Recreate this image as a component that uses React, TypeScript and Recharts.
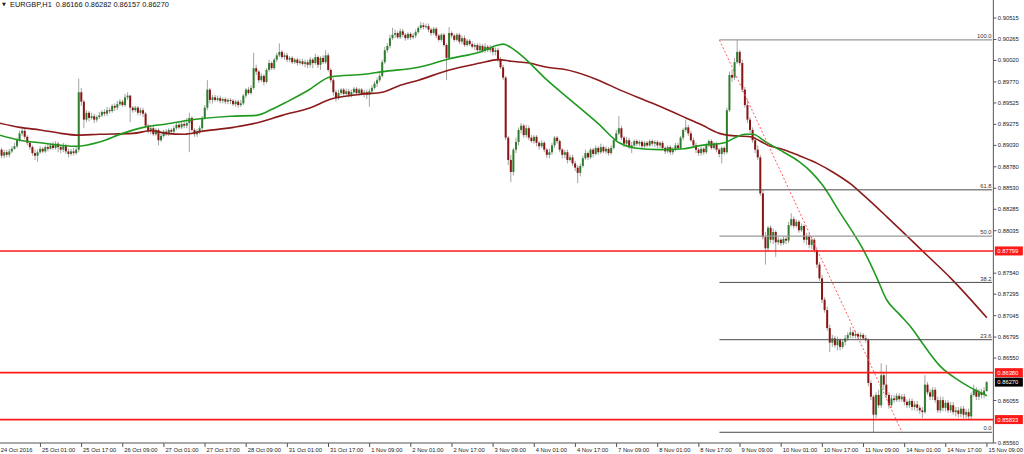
import React from 'react';
import { ComposedChart, Bar, Line, XAxis, YAxis, ReferenceLine } from 'recharts';

// ---- EURGBP H1 candles (24 Oct 2016 09:00 .. 15 Nov 2016 09:00) ----
const OPEN = [
0.8903,0.8898,0.8891,0.8895,0.8892,0.8896,0.8899,0.8902,0.8909,0.8917,0.8920,
0.8913,0.8906,0.8901,0.8894,0.8891,0.8895,0.8899,0.8896,0.8901,0.8899,
0.8903,0.8900,0.8905,0.8901,0.8898,0.8902,0.8896,0.8893,0.8896,0.8894,
0.8898,0.8965,0.8954,0.8933,0.8941,0.8935,0.8937,0.8933,0.8936,0.8938,
0.8942,0.8940,0.8944,0.8943,0.8949,0.8947,0.8951,0.8954,0.8950,0.8959,
0.8961,0.8947,0.8944,0.8947,0.8941,0.8944,0.8940,0.8926,0.8920,0.8923,
0.8916,0.8921,0.8909,0.8914,0.8919,0.8916,0.8921,0.8919,0.8923,0.8927,
0.8924,0.8928,0.8926,0.8929,0.8935,0.8921,0.8916,0.8919,0.8923,0.8935,
0.8947,0.8968,0.8956,0.8959,0.8956,0.8958,0.8955,0.8957,0.8954,0.8956,
0.8955,0.8951,0.8954,0.8950,0.8952,0.8961,0.8968,0.8964,0.8970,0.8993,
0.8989,0.8979,0.8984,0.8977,0.8991,0.8999,0.8993,0.9003,0.9008,0.9012,
0.9006,0.9008,0.9003,0.9005,0.9000,0.9003,0.8999,0.9001,0.8998,0.9000,
0.8997,0.9003,0.8999,0.9006,0.8997,0.9005,0.9000,0.9008,0.8991,0.8979,
0.8965,0.8958,0.8964,0.8968,0.8963,0.8966,0.8962,0.8965,0.8969,0.8964,
0.8968,0.8963,0.8965,0.8962,0.8966,0.8970,0.8975,0.8979,0.8984,0.9000,
0.9014,0.9019,0.9028,0.9032,0.9034,0.9029,0.9036,0.9032,0.9028,0.9033,
0.9029,0.9031,0.9035,0.9040,0.9043,0.9041,0.9042,0.9038,0.9034,0.9039,
0.9031,0.9026,0.9032,0.9020,0.9005,0.9034,0.9031,0.9026,0.9032,0.9024,
0.9028,0.9020,0.9025,0.9021,0.9018,0.9020,0.9014,0.9019,0.9013,0.9018,
0.9014,0.9017,0.9012,0.9014,0.9003,0.8994,0.8982,0.8912,0.8886,0.8872,
0.8898,0.8907,0.8921,0.8926,0.8915,0.8923,0.8912,0.8908,0.8913,0.8906,
0.8902,0.8906,0.8898,0.8892,0.8895,0.8903,0.8912,0.8908,0.8898,0.8892,
0.8895,0.8886,0.8889,0.8882,0.8877,0.8871,0.8879,0.8888,0.8894,0.8889,
0.8898,0.8893,0.8900,0.8895,0.8901,0.8896,0.8899,0.8894,0.8900,0.8909,
0.8917,0.8923,0.8912,0.8905,0.8909,0.8901,0.8903,0.8908,0.8905,0.8907,
0.8902,0.8906,0.8903,0.8908,0.8905,0.8907,0.8903,0.8906,0.8900,0.8896,
0.8901,0.8895,0.8899,0.8903,0.8900,0.8912,0.8921,0.8924,0.8917,0.8909,
0.8903,0.8898,0.8894,0.8899,0.8895,0.8903,0.8908,0.8900,0.8905,0.8898,
0.8893,0.8900,0.8895,0.8944,0.8985,0.8982,0.9000,0.9012,0.8999,0.8968,
0.8950,0.8933,0.8921,0.8909,0.8898,0.8889,0.8847,0.8796,0.8783,0.8807,
0.8793,0.8802,0.8790,0.8793,0.8789,0.8794,0.8792,0.8810,0.8817,0.8809,
0.8814,0.8804,0.8809,0.8793,0.8797,0.8787,0.8793,0.8781,0.8764,0.8748,
0.8723,0.8711,0.8690,0.8673,0.8678,0.8670,0.8676,0.8668,0.8674,0.8678,
0.8682,0.8685,0.8681,0.8683,0.8680,0.8682,0.8678,0.8676,0.8626,0.8610,
0.8589,0.8612,0.8600,0.8635,0.8624,0.8612,0.8600,0.8608,0.8606,0.8611,
0.8607,0.8610,0.8604,0.8600,0.8605,0.8598,0.8601,0.8597,0.8594,0.8592,
0.8624,0.8615,0.8610,0.8618,0.8606,0.8594,0.8606,0.8597,0.8603,0.8594,
0.8600,0.8592,0.8594,0.8590,0.8596,0.8589,0.8592,0.8587,0.8612,0.8618,
0.8610,0.8615,0.8612,0.86166,
];

const HIGH = [
0.8906,0.8900,0.8898,0.8898,0.8899,0.8902,0.8906,0.8912,0.8920,0.8923,
0.8922,0.8915,0.8908,0.8903,0.8898,0.8898,0.8902,0.8901,0.8903,0.8905,
0.8906,0.8907,0.8908,0.8907,0.8903,0.8906,0.8905,0.8899,0.8899,0.8900,
0.8901,0.8981,0.8970,0.8956,0.8944,0.8943,0.8941,0.8940,0.8938,0.8942,
0.8944,0.8945,0.8948,0.8947,0.8951,0.8952,0.8955,0.8957,0.8956,0.8963,
0.8965,0.8962,0.8949,0.8949,0.8949,0.8947,0.8947,0.8942,0.8928,0.8926,
0.8926,0.8923,0.8923,0.8917,0.8921,0.8922,0.8923,0.8923,0.8926,0.8929,
0.8930,0.8931,0.8933,0.8935,0.8941,0.8937,0.8923,0.8922,0.8926,0.8937,
0.8950,0.8979,0.8970,0.8962,0.8962,0.8961,0.8961,0.8959,0.8959,0.8958,
0.8958,0.8957,0.8956,0.8956,0.8956,0.8963,0.8970,0.8971,0.8973,0.9011,
0.8997,0.8991,0.8987,0.8986,0.8993,0.9003,0.9001,0.9005,0.9011,0.9022,
0.9014,0.9011,0.9011,0.9007,0.9007,0.9005,0.9005,0.9004,0.9004,0.9003,
0.9003,0.9006,0.9005,0.9010,0.9008,0.9007,0.9008,0.9014,0.9011,0.8993,
0.8982,0.8968,0.8968,0.8970,0.8970,0.8969,0.8969,0.8968,0.8971,0.8971,
0.8970,0.8970,0.8968,0.8968,0.8969,0.8973,0.8978,0.8982,0.8987,0.9003,
0.9018,0.9022,0.9032,0.9040,0.9038,0.9036,0.9039,0.9039,0.9034,0.9035,
0.9035,0.9034,0.9038,0.9042,0.9047,0.9046,0.9045,0.9045,0.9040,0.9041,
0.9041,0.9033,0.9034,0.9034,0.9022,0.9041,0.9036,0.9033,0.9034,0.9034,
0.9031,0.9031,0.9027,0.9027,0.9024,0.9022,0.9022,0.9022,0.9021,0.9022,
0.9020,0.9020,0.9019,0.9017,0.9017,0.9006,0.8997,0.8984,0.8914,0.8892,
0.8900,0.8912,0.8924,0.8929,0.8928,0.8927,0.8926,0.8915,0.8915,0.8915,
0.8908,0.8909,0.8908,0.8900,0.8899,0.8906,0.8914,0.8914,0.8910,0.8900,
0.8898,0.8898,0.8892,0.8892,0.8885,0.8880,0.8882,0.8891,0.8898,0.8896,
0.8900,0.8900,0.8903,0.8902,0.8905,0.8903,0.8902,0.8901,0.8903,0.8912,
0.8921,0.8937,0.8926,0.8914,0.8913,0.8912,0.8907,0.8910,0.8910,0.8909,
0.8909,0.8908,0.8908,0.8910,0.8910,0.8909,0.8909,0.8908,0.8908,0.8902,
0.8903,0.8903,0.8901,0.8906,0.8906,0.8914,0.8923,0.8933,0.8927,0.8920,
0.8912,0.8906,0.8900,0.8901,0.8901,0.8906,0.8910,0.8910,0.8907,0.8907,
0.8900,0.8902,0.8902,0.8947,0.8989,0.8991,0.9005,0.90259,0.9014,0.9003,
0.8971,0.8956,0.8936,0.8924,0.8913,0.8903,0.8892,0.8851,0.8802,0.8809,
0.8810,0.8806,0.8804,0.8796,0.8795,0.8797,0.8797,0.8814,0.8824,0.8820,
0.8817,0.8816,0.8812,0.8811,0.8801,0.8800,0.8796,0.8795,0.8783,0.8767,
0.8752,0.8726,0.8715,0.8694,0.8682,0.8681,0.8680,0.8678,0.8677,0.8682,
0.8685,0.8691,0.8688,0.8687,0.8685,0.8685,0.8684,0.8682,0.8678,0.8629,
0.8612,0.8615,0.8618,0.8649,0.8639,0.8647,0.8615,0.8612,0.8612,0.8614,
0.8614,0.8613,0.8613,0.8607,0.8608,0.8608,0.8605,0.8605,0.8600,0.8598,
0.8635,0.8627,0.8619,0.8621,0.8621,0.8610,0.8610,0.8610,0.8606,0.8606,
0.8604,0.8604,0.8598,0.8598,0.8599,0.8599,0.8596,0.8596,0.8615,0.8624,
0.8621,0.8619,0.8619,0.8621,0.86282,
];

const LOW = [
0.8895,0.8888,0.8888,0.8889,0.8889,0.8894,0.8898,0.8900,0.8907,0.8914,
0.8910,0.8903,0.8898,0.8891,0.8886,0.8884,0.8893,0.8894,0.8894,0.8896,
0.8898,0.8898,0.8898,0.8895,0.8894,0.8895,0.8893,0.8889,0.8891,0.8891,
0.8892,0.8895,0.8949,0.8923,0.8930,0.8931,0.8933,0.8929,0.8930,0.8934,
0.8936,0.8937,0.8937,0.8940,0.8941,0.8943,0.8944,0.8949,0.8948,0.8948,
0.8956,0.8930,0.8941,0.8942,0.8938,0.8938,0.8936,0.8923,0.8917,0.8916,
0.8914,0.8914,0.8903,0.8907,0.8912,0.8914,0.8914,0.8915,0.8916,0.8921,
0.8922,0.8922,0.8923,0.8923,0.8895,0.8919,0.8913,0.8913,0.8916,0.8921,
0.8933,0.8944,0.8952,0.8952,0.8954,0.8954,0.8952,0.8952,0.8951,0.8951,
0.8951,0.8949,0.8948,0.8947,0.8948,0.8950,0.8958,0.8962,0.8962,0.8968,
0.8985,0.8976,0.8977,0.8973,0.8975,0.8989,0.8991,0.8991,0.9000,0.9006,
0.9004,0.9003,0.9000,0.9000,0.8998,0.8998,0.8996,0.8997,0.8996,0.8994,
0.8993,0.8994,0.8993,0.8997,0.8993,0.8991,0.8998,0.8998,0.8989,0.8976,
0.8961,0.8954,0.8956,0.8962,0.8961,0.8961,0.8959,0.8959,0.8962,0.8962,
0.8961,0.8961,0.8959,0.8957,0.8948,0.8964,0.8968,0.8971,0.8977,0.8982,
0.8998,0.9011,0.9016,0.9026,0.9028,0.9027,0.9027,0.9029,0.9025,0.9026,
0.9026,0.9027,0.9028,0.9033,0.9038,0.9038,0.9039,0.9035,0.9031,0.9032,
0.9028,0.9024,0.9024,0.9018,0.8979,0.9003,0.9028,0.9024,0.9024,0.9021,
0.9021,0.9018,0.9018,0.9019,0.9016,0.9014,0.9012,0.9012,0.9011,0.9011,
0.9012,0.9011,0.9008,0.9008,0.9000,0.8992,0.8979,0.8909,0.8880,0.8860,
0.8868,0.8894,0.8903,0.8917,0.8912,0.8912,0.8909,0.8906,0.8905,0.8902,
0.8898,0.8900,0.8895,0.8888,0.8888,0.8892,0.8900,0.8905,0.8895,0.8888,
0.8888,0.8882,0.8884,0.8879,0.8873,0.8859,0.8867,0.8877,0.8886,0.8886,
0.8887,0.8889,0.8891,0.8892,0.8893,0.8894,0.8893,0.8891,0.8892,0.8898,
0.8907,0.8915,0.8909,0.8901,0.8902,0.8899,0.8894,0.8901,0.8902,0.8902,
0.8900,0.8900,0.8901,0.8901,0.8902,0.8901,0.8900,0.8900,0.8898,0.8893,
0.8894,0.8892,0.8892,0.8896,0.8898,0.8898,0.8909,0.8919,0.8914,0.8907,
0.8900,0.8894,0.8891,0.8891,0.8892,0.8893,0.8901,0.8898,0.8898,0.8895,
0.8889,0.8882,0.8892,0.8893,0.8942,0.8977,0.8979,0.8998,0.8996,0.8965,
0.8947,0.8929,0.8917,0.8906,0.8894,0.8886,0.8844,0.8793,0.8764,0.8779,
0.8789,0.8788,0.8773,0.8787,0.8786,0.8787,0.8788,0.8789,0.8808,0.8806,
0.8807,0.8801,0.8802,0.8789,0.8787,0.8783,0.8782,0.8778,0.8760,0.8745,
0.8719,0.8708,0.8687,0.8662,0.8668,0.8667,0.8664,0.8664,0.8666,0.8670,
0.8675,0.8678,0.8678,0.8678,0.8676,0.8677,0.8676,0.8673,0.8622,0.8606,
0.85685,0.8585,0.8597,0.8597,0.8618,0.8608,0.8596,0.8597,0.8603,0.8604,
0.8604,0.8604,0.8600,0.8597,0.8597,0.8594,0.8594,0.8593,0.8590,0.8585,
0.8590,0.8612,0.8606,0.8606,0.8603,0.8591,0.8591,0.8593,0.8593,0.8591,
0.8591,0.8589,0.8587,0.8586,0.8586,0.8585,0.8585,0.8584,0.8584,0.8610,
0.8606,0.8606,0.8608,0.8608,0.86157,
];

const CLOSE = [
0.8898,0.8891,0.8895,0.8892,0.8896,0.8899,0.8902,0.8909,0.8917,0.8920,
0.8913,0.8906,0.8901,0.8894,0.8891,0.8895,0.8899,0.8896,0.8901,0.8899,
0.8903,0.8900,0.8905,0.8901,0.8898,0.8902,0.8896,0.8893,0.8896,0.8894,
0.8898,0.8965,0.8954,0.8933,0.8941,0.8935,0.8937,0.8933,0.8936,0.8938,
0.8942,0.8940,0.8944,0.8943,0.8949,0.8947,0.8951,0.8954,0.8950,0.8959,
0.8961,0.8947,0.8944,0.8947,0.8941,0.8944,0.8940,0.8926,0.8920,0.8923,
0.8916,0.8921,0.8909,0.8914,0.8919,0.8916,0.8921,0.8919,0.8923,0.8927,
0.8924,0.8928,0.8926,0.8929,0.8935,0.8921,0.8916,0.8919,0.8923,0.8935,
0.8947,0.8968,0.8956,0.8959,0.8956,0.8958,0.8955,0.8957,0.8954,0.8956,
0.8955,0.8951,0.8954,0.8950,0.8952,0.8961,0.8968,0.8964,0.8970,0.8993,
0.8989,0.8979,0.8984,0.8977,0.8991,0.8999,0.8993,0.9003,0.9008,0.9012,
0.9006,0.9008,0.9003,0.9005,0.9000,0.9003,0.8999,0.9001,0.8998,0.9000,
0.8997,0.9003,0.8999,0.9006,0.8997,0.9005,0.9000,0.9008,0.8991,0.8979,
0.8965,0.8958,0.8964,0.8968,0.8963,0.8966,0.8962,0.8965,0.8969,0.8964,
0.8968,0.8963,0.8965,0.8962,0.8966,0.8970,0.8975,0.8979,0.8984,0.9000,
0.9014,0.9019,0.9028,0.9032,0.9034,0.9029,0.9036,0.9032,0.9028,0.9033,
0.9029,0.9031,0.9035,0.9040,0.9043,0.9041,0.9042,0.9038,0.9034,0.9039,
0.9031,0.9026,0.9032,0.9020,0.9005,0.9034,0.9031,0.9026,0.9032,0.9024,
0.9028,0.9020,0.9025,0.9021,0.9018,0.9020,0.9014,0.9019,0.9013,0.9018,
0.9014,0.9017,0.9012,0.9014,0.9003,0.8994,0.8982,0.8912,0.8886,0.8872,
0.8898,0.8907,0.8921,0.8926,0.8915,0.8923,0.8912,0.8908,0.8913,0.8906,
0.8902,0.8906,0.8898,0.8892,0.8895,0.8903,0.8912,0.8908,0.8898,0.8892,
0.8895,0.8886,0.8889,0.8882,0.8877,0.8871,0.8879,0.8888,0.8894,0.8889,
0.8898,0.8893,0.8900,0.8895,0.8901,0.8896,0.8899,0.8894,0.8900,0.8909,
0.8917,0.8923,0.8912,0.8905,0.8909,0.8901,0.8903,0.8908,0.8905,0.8907,
0.8902,0.8906,0.8903,0.8908,0.8905,0.8907,0.8903,0.8906,0.8900,0.8896,
0.8901,0.8895,0.8899,0.8903,0.8900,0.8912,0.8921,0.8924,0.8917,0.8909,
0.8903,0.8898,0.8894,0.8899,0.8895,0.8903,0.8908,0.8900,0.8905,0.8898,
0.8893,0.8900,0.8895,0.8944,0.8985,0.8982,0.9000,0.9012,0.8999,0.8968,
0.8950,0.8933,0.8921,0.8909,0.8898,0.8889,0.8847,0.8796,0.8783,0.8807,
0.8793,0.8802,0.8790,0.8793,0.8789,0.8794,0.8792,0.8810,0.8817,0.8809,
0.8814,0.8804,0.8809,0.8793,0.8797,0.8787,0.8793,0.8781,0.8764,0.8748,
0.8723,0.8711,0.8690,0.8673,0.8678,0.8670,0.8676,0.8668,0.8674,0.8678,
0.8682,0.8685,0.8681,0.8683,0.8680,0.8682,0.8678,0.8676,0.8626,0.8610,
0.8589,0.8612,0.8600,0.8635,0.8624,0.8612,0.8600,0.8608,0.8606,0.8611,
0.8607,0.8610,0.8604,0.8600,0.8605,0.8598,0.8601,0.8597,0.8594,0.8592,
0.8624,0.8615,0.8610,0.8618,0.8606,0.8594,0.8606,0.8597,0.8603,0.8594,
0.8600,0.8592,0.8594,0.8590,0.8596,0.8589,0.8592,0.8587,0.8612,0.8618,
0.8610,0.8615,0.8612,0.8617,0.8627,
];

// moving averages: [bar index, price]
const FAST_MA: [number, number][] = [
[0,0.8915],[8,0.8909],[16,0.8906],[30,0.8902],[39,0.8907],[48,0.8917],[56,0.8924],
[65,0.8928],[78,0.8934],[90,0.8937],[100,0.8938],[106,0.8945],[112,0.8954],[120,0.8967],
[129,0.8983],[142,0.8986],[149,0.8989],[163,0.8994],[175,0.9004],[187,0.9012],[194,0.9020],
[196,0.9021],[199,0.9017],[203,0.9008],[213,0.8979],[222,0.8956],[233,0.8928],[241,0.8906],
[247,0.8900],[257,0.8898],[266,0.8899],[273,0.8903],[282,0.8906],[286,0.8912],[290,0.8916],
[293,0.8916],[298,0.8907],[305,0.8895],[311,0.8884],[316,0.8871],[320,0.8857],[327,0.8824],
[332,0.8801],[336,0.8781],[341,0.8750],[345,0.8723],[350,0.8706],[355,0.8689],[359,0.8672],
[366,0.8645],[373,0.8629],[378,0.8620],[382,0.8614],[384,0.8611],
];
const SLOW_MA: [number, number][] = [
[0,0.8929],[8,0.8924],[16,0.8921],[24,0.8917],[30,0.8915],[39,0.8916],[52,0.8917],
[59,0.8920],[65,0.8917],[72,0.8916],[78,0.8919],[91,0.8924],[100,0.8929],[110,0.8938],
[121,0.8947],[129,0.8957],[142,0.8963],[149,0.8965],[155,0.8972],[163,0.8979],[175,0.8991],
[187,0.8999],[194,0.9003],[199,0.9001],[206,0.8999],[213,0.8994],[219,0.8992],[233,0.8979],
[241,0.8968],[254,0.8952],[267,0.8935],[273,0.8927],[280,0.8917],[283,0.8915],[292,0.8913],
[299,0.8903],[305,0.8898],[311,0.8891],[318,0.8882],[324,0.8872],[331,0.8858],[336,0.8845],
[345,0.8820],[353,0.8797],[361,0.8774],[370,0.8748],[384,0.8702],
];

const TIME_LABELS: [number, string][] = [
[0,'24 Oct 2016'],[16,'25 Oct 01:00'],[32,'25 Oct 17:00'],[48,'26 Oct 09:00'],[64,'27 Oct 01:00'],
[80,'27 Oct 17:00'],[96,'28 Oct 09:00'],[112,'31 Oct 01:00'],[128,'31 Oct 17:00'],[144,'1 Nov 09:00'],
[160,'2 Nov 01:00'],[176,'2 Nov 17:00'],[192,'3 Nov 09:00'],[208,'4 Nov 01:00'],[224,'4 Nov 17:00'],
[240,'7 Nov 09:00'],[256,'8 Nov 01:00'],[272,'8 Nov 17:00'],[288,'9 Nov 09:00'],[304,'10 Nov 01:00'],
[320,'10 Nov 17:00'],[336,'11 Nov 09:00'],[352,'14 Nov 01:00'],[368,'14 Nov 17:00'],[384,'15 Nov 09:00'],
];

const PRICE_TICKS = [0.90515,0.90265,0.9002,0.8977,0.89525,0.89275,0.8903,0.8878,0.8853,0.88285,
  0.88035,0.8754,0.87295,0.87045,0.86795,0.8655,0.86055,0.8556];
const Y_DOMAIN = [0.8556, 0.90725];
const RED_LEVELS = [0.87799, 0.8638, 0.85833];
const LAST_PRICE = 0.8627;
const FIB_HIGH = 0.90259;
const FIB_LOW = 0.85685;
const FIB_FROM = 280;
const FIB_TREND_TO = 351;
const FIB_RATIOS = ['100.0', '61.8', '50.0', '38.2', '23.6', '0.0'];
const TOTAL_SLOTS = 387;
const TITLE = 'EURGBP,H1  0.86166 0.86282 0.86157 0.86270';

const FONT = "'Liberation Sans', Arial, sans-serif";
const TIME_MAP = new Map<number, string>(TIME_LABELS);
const FAST_MAP = new Map<number, number>(FAST_MA);
const SLOW_MAP = new Map<number, number>(SLOW_MA);

const data = Array.from({ length: TOTAL_SLOTS }, (_, i) => {
  const has = i < CLOSE.length;
  return {
    i,
    o: has ? OPEN[i] : null,
    h: has ? HIGH[i] : null,
    l: has ? LOW[i] : null,
    c: has ? CLOSE[i] : null,
    range: has ? [LOW[i], HIGH[i]] : null,
    fast: FAST_MAP.has(i) ? FAST_MAP.get(i) : null,
    slow: SLOW_MAP.has(i) ? SLOW_MAP.get(i) : null,
  };
});

const Candle = (props: any) => {
  const { x, y, width, height, payload } = props;
  if (!payload || payload.o == null) return null;
  const { o, h, l, c } = payload;
  const cx = x + width / 2;
  const span = h - l;
  const ratio = span > 0 ? height / span : 0;
  const yO = y + (h - o) * ratio;
  const yC = y + (h - c) * ratio;
  const top = Math.min(yO, yC);
  const bh = Math.max(Math.abs(yO - yC), 1);
  const bull = c >= o;
  return (
    <g>
      <line x1={cx} x2={cx} y1={y} y2={y + height} stroke="#a3a3a3" strokeWidth={1} />
      <rect x={cx - 1} y={top} width={2} height={bh} fill={bull ? '#2f7d2f' : '#8a1414'} />
    </g>
  );
};

const TimeTick = (props: any) => {
  const { x, y, payload } = props;
  const label = TIME_MAP.get(Number(payload.value));
  if (!label) return null;
  return (
    <g>
      <line x1={x} x2={x} y1={y} y2={y + 4} stroke="#555" strokeWidth={1} />
      <text x={x + 1.5} y={y + 8.6} fontSize={5.8} fontFamily={FONT} fill="#222">{label}</text>
    </g>
  );
};

const PriceTick = (props: any) => {
  const { x, y, payload } = props;
  return (
    <g>
      <line x1={x} x2={x + 3} y1={y} y2={y} stroke="#555" strokeWidth={1} />
      <text x={x + 4.5} y={y + 2} fontSize={5.8} fontFamily={FONT} fill="#222">
        {Number(payload.value).toFixed(5)}
      </text>
    </g>
  );
};

const boxLabel = (fill: string, value: number) => (props: any) => {
  const vb = props.viewBox || {};
  const bx = (vb.x || 0) + (vb.width || 0) + 1.5;
  const by = vb.y || 0;
  return (
    <g>
      <rect x={bx} y={by - 4.5} width={28} height={9} fill={fill} />
      <text x={bx + 2.5} y={by + 2} fontSize={5.8} fontFamily={FONT} fill="#fff">{value.toFixed(5)}</text>
    </g>
  );
};

const fibLabel = (text: string) => (props: any) => {
  const vb = props.viewBox || {};
  return (
    <text x={(vb.x || 0) + (vb.width || 0) - 0.5} y={(vb.y || 0) - 1.8} textAnchor="end"
      fontSize={5.8} fontFamily={FONT} fill="#333">{text}</text>
  );
};

export default function App() {
  const fibLevels = FIB_RATIOS.map((r) => ({
    r,
    p: FIB_LOW + (FIB_HIGH - FIB_LOW) * (parseFloat(r) / 100),
  }));
  return (
    <div style={{ position: 'fixed', left: 0, top: 0, width: 1024, height: 454, overflow: 'hidden', background: '#fff' }}>
      <div style={{ position: 'absolute', left: -2.29, top: 0 }}>
        <ComposedChart width={1027} height={454} data={data}
          margin={{ top: 0, right: 0, bottom: 0, left: 0 }} barCategoryGap={0} barGap={0}>
          <XAxis dataKey="i" type="category" ticks={TIME_LABELS.map((t) => t[0])} interval={0}
            height={11} tickSize={0} tickMargin={0} tickLine={false}
            axisLine={{ stroke: '#555', strokeWidth: 1 }} tick={(p: any) => <TimeTick {...p} />} />
          <YAxis orientation="right" type="number" domain={Y_DOMAIN} allowDataOverflow ticks={PRICE_TICKS}
            interval={0} width={31.64} tickSize={0} tickMargin={0} tickLine={false}
            axisLine={{ stroke: '#555', strokeWidth: 1 }} tick={(p: any) => <PriceTick {...p} />} />
          <Bar dataKey="range" barSize={2} shape={(p: any) => <Candle {...p} />} isAnimationActive={false} />
          <Line dataKey="slow" type="monotone" stroke="#8b1a1a" strokeWidth={1.6} dot={false}
            activeDot={false} connectNulls isAnimationActive={false} />
          <Line dataKey="fast" type="monotone" stroke="#1f9a1f" strokeWidth={1.6} dot={false}
            activeDot={false} connectNulls isAnimationActive={false} />
          {fibLevels.map((f) => (
            <ReferenceLine key={f.r} segment={[{ x: FIB_FROM, y: f.p }, { x: TOTAL_SLOTS - 1, y: f.p }]}
              stroke={f.r === '100.0' || f.r === '50.0' ? '#9a9a9a' : '#4a4a4a'}
              strokeWidth={f.r === '100.0' || f.r === '50.0' ? 1.3 : 1}
              label={fibLabel(f.r)} />
          ))}
          <ReferenceLine segment={[{ x: FIB_FROM, y: FIB_HIGH }, { x: FIB_TREND_TO, y: FIB_LOW }]}
            stroke="#ff5a5a" strokeWidth={1} strokeDasharray="2 2" />
          {RED_LEVELS.map((p) => (
            <ReferenceLine key={p} y={p} stroke="#ff1a1a" strokeWidth={1.6} label={boxLabel('#ff1a1a', p)} />
          ))}
          <ReferenceLine y={LAST_PRICE} stroke="none" strokeOpacity={0} label={boxLabel('#000', LAST_PRICE)} />
        </ComposedChart>
      </div>
      <div style={{ position: 'absolute', left: 2, top: 1, fontSize: 5, lineHeight: '7px', fontFamily: "'DejaVu Sans', sans-serif", color: '#222' }}>▼</div>
      <div style={{ position: 'absolute', left: 10, top: 0, fontSize: 7.4, lineHeight: '9px', fontFamily: FONT, color: '#111', whiteSpace: 'pre' }}>
        {TITLE}
      </div>
    </div>
  );
}
